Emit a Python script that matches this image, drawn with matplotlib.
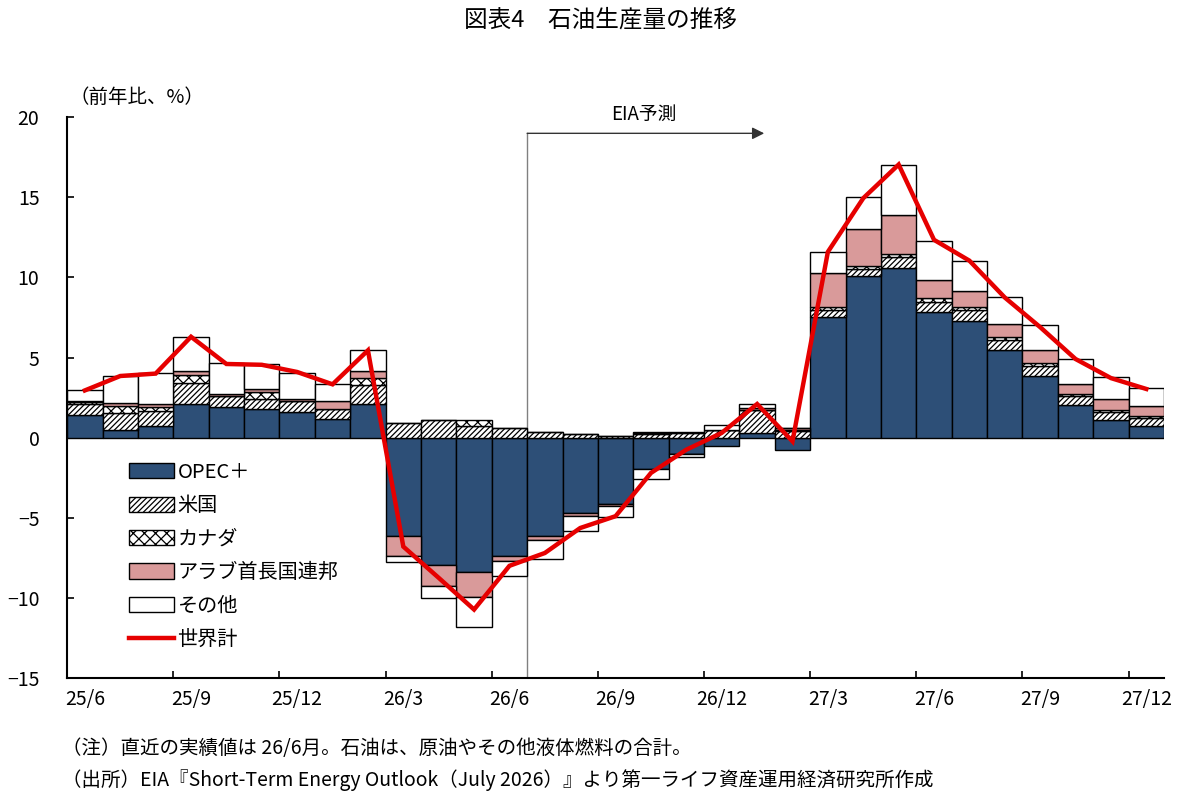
import matplotlib
matplotlib.use("Agg")
import matplotlib.pyplot as plt
import numpy as np

plt.rcParams["font.family"] = ["Noto Sans CJK JP", "DejaVu Sans"]
plt.rcParams["hatch.linewidth"] = 0.9

months = [
    "25/6", "25/7", "25/8", "25/9", "25/10", "25/11", "25/12",
    "26/1", "26/2", "26/3", "26/4", "26/5", "26/6", "26/7", "26/8", "26/9",
    "26/10", "26/11", "26/12", "27/1", "27/2", "27/3", "27/4", "27/5",
    "27/6", "27/7", "27/8", "27/9", "27/10", "27/11", "27/12",
]
opec = [1.40, 0.46, 0.71, 2.10, 1.91, 1.79, 1.62, 1.16, 2.10, -6.11, -7.92, -8.40,
        -7.40, -6.16, -4.70, -4.12, -1.95, -1.00, -0.50, 0.29, -0.79, 7.53, 10.10,
        10.58, 7.84, 7.30, 5.45, 3.83, 2.02, 1.12, 0.71]
usa = [0.70, 1.08, 0.93, 1.31, 0.67, 0.64, 0.65, 0.64, 1.20, 0.91, 1.08, 0.70,
       0.60, 0.33, 0.23, 0.08, 0.25, 0.30, 0.50, 1.46, 0.40, 0.41, 0.44,
       0.67, 0.66, 0.64, 0.62, 0.62, 0.56, 0.48, 0.52]
canada = [0.10, 0.46, 0.27, 0.52, 0.05, 0.42, 0.05, 0.00, 0.42, 0.00, 0.00, 0.42,
          0.00, 0.00, 0.00, 0.00, 0.05, 0.05, 0.00, 0.00, 0.10, 0.21, 0.19,
          0.21, 0.21, 0.21, 0.21, 0.21, 0.14, 0.15, 0.10]
uae = [0.10, 0.16, 0.21, 0.21, 0.12, 0.21, 0.11, 0.50, 0.42, -1.29, -1.35, -1.54,
       -0.31, -0.24, -0.17, -0.16, 0.05, -0.05, 0.00, 0.10, 0.10, 2.12, 2.31,
       2.44, 1.15, 0.98, 0.83, 0.79, 0.63, 0.66, 0.62]
other = [0.65, 1.67, 1.91, 2.14, 1.90, 1.54, 1.60, 1.05, 1.31, -0.38, -0.73, -1.90,
         -0.94, -1.17, -0.93, -0.67, -0.60, -0.15, 0.30, 0.27, 0.00, 1.29, 1.96,
         3.13, 2.44, 1.93, 1.70, 1.60, 1.58, 1.35, 1.15]
world = [2.95, 3.85, 4.00, 6.30, 4.60, 4.55, 4.10, 3.33, 5.45, -6.80, -8.75, -10.73,
         -8.00, -7.20, -5.64, -4.90, -2.20, -0.75, 0.30, 2.10, -0.23, 11.60, 14.95,
         17.05, 12.35, 11.05, 8.75, 6.90, 4.91, 3.72, 3.04]

labels = ["OPEC＋", "米国", "カナダ", "アラブ首長国連邦", "その他"]
styles = [
    dict(color="#2D4F77", hatch=None),
    dict(color="white", hatch="//////"),
    dict(color="white", hatch="xxx"),
    dict(color="#D99A9A", hatch=None),
    dict(color="white", hatch=None),
]

fig = plt.figure(figsize=(12, 8.09), dpi=100)
ax = fig.add_axes([0.056, 0.162, 0.914, 0.693])

x = np.arange(len(months))
pos_base = np.zeros(len(x))
neg_base = np.zeros(len(x))
handles = []
for vals, lab, st in zip([opec, usa, canada, uae, other], labels, styles):
    v = np.array(vals)
    bottom = np.where(v >= 0, pos_base, neg_base)
    bars = ax.bar(x, v, width=1.0, bottom=bottom, facecolor=st["color"],
                  edgecolor="black", linewidth=1.0, hatch=st["hatch"], label=lab,
                  zorder=2)
    handles.append(bars)
    pos_base += np.where(v > 0, v, 0)
    neg_base += np.where(v < 0, v, 0)

(line,) = ax.plot(x, world, color="#E60000", linewidth=3.2, zorder=4,
                  solid_joinstyle="miter", label="世界計")
handles.append(line)

# forecast marker
ax.plot([12.5, 12.5], [-15, 19], color="#808080", linewidth=1.0, zorder=1)
ax.annotate("", xy=(19.2, 19), xytext=(12.5, 19),
            arrowprops=dict(arrowstyle="-|>", color="#333333", lw=1.0,
                            mutation_scale=18, shrinkA=0, shrinkB=0))
ax.text(15.8, 19.5, "EIA予測", ha="center", va="bottom", fontsize=13.5)

ax.set_xlim(-0.5, len(x) - 0.5)
ax.set_ylim(-15, 20)
ax.set_yticks(np.arange(-15, 21, 5))
ax.tick_params(axis="y", direction="in", length=5, width=1.2, labelsize=14, pad=20)

ax.set_xticks(x[::3])
ax.set_xticklabels(months[::3], fontsize=14)
ax.tick_params(axis="x", length=0, pad=8)
ax.set_xticks(x[3::3] - 0.5, minor=True)
ax.tick_params(axis="x", which="minor", direction="in", length=5, width=1.2)

ax.spines["top"].set_visible(False)
ax.spines["right"].set_visible(False)
ax.spines["left"].set_linewidth(1.5)
ax.spines["bottom"].set_linewidth(1.5)

ax.legend(handles=handles, loc="upper left", bbox_to_anchor=(0.04, 0.418),
          frameon=False, fontsize=14.5, handlelength=2.2, handleheight=0.8,
          handletextpad=0.2, labelspacing=0.62)

fig.text(0.5, 0.975, "図表4　石油生産量の推移", ha="center", va="center", fontsize=17)
fig.text(0.058, 0.88, "（前年比、%）", ha="left", va="center", fontsize=14)
fig.text(0.052, 0.075, "（注）直近の実績値は 26/6月。石油は、原油やその他液体燃料の合計。",
         ha="left", va="center", fontsize=14)
fig.text(0.052, 0.036,
         "（出所）EIA『Short-Term Energy Outlook（July 2026）』より第一ライフ資産運用経済研究所作成",
         ha="left", va="center", fontsize=14)

fig.savefig("out.png", dpi=100)
